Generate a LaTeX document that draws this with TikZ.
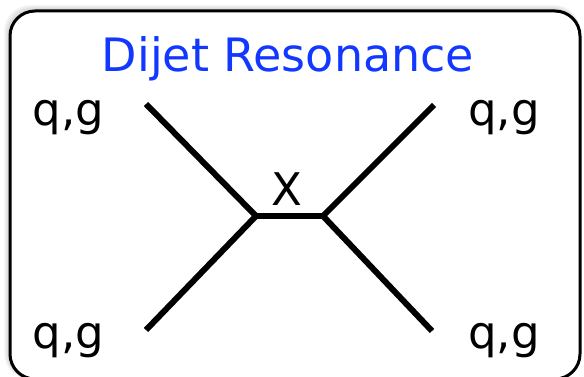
\documentclass[tikz,border=0pt]{standalone}
\usepackage{fontspec}
\setmainfont{DejaVu Sans}
\usepackage{xcolor}
\definecolor{diagramink}{HTML}{000000}
\definecolor{diagramtitle}{HTML}{1238FF}
\definecolor{diagramshade}{HTML}{9A9A9A}

\begin{document}
\begin{tikzpicture}[
  x=1pt,
  y=-1pt,
  every node/.style={inner sep=0pt, anchor=base},
  leg/.style={diagramink, line width=6pt},
  parton/.style={font=\fontsize{45}{50}\selectfont},
  title/.style={diagramtitle, font=\fontsize{46}{52}\selectfont}
]
  \useasboundingbox (0,0) rectangle (584,377);
  \def\frameBox{(10,11) rectangle (580,379)}

  \foreach \s in {1,...,6} {
    \path[fill=diagramshade, fill opacity=0.09, rounded corners=26pt]
      (10-\s,11-\s) rectangle (580,379);
  }
  \draw[diagramink, fill=white, line width=3pt, rounded corners=25pt] \frameBox;

  \node[title] (head) at (288,72) {Dijet Resonance};

  \coordinate (inA) at (146,104);
  \coordinate (inB) at (146,330);
  \coordinate (vtxL) at (256,216);
  \coordinate (vtxR) at (323,216);
  \coordinate (outA) at (434,105);
  \coordinate (outB) at (432,331);

  \draw[leg] (inA) -- (vtxL);
  \draw[leg] (inB) -- (vtxL);
  \draw[leg] (vtxL) -- (vtxR);
  \draw[leg] (vtxR) -- (outA);
  \draw[leg] (vtxR) -- (outB);

  \node[parton] (pA) at (68.5,126) {q,g};
  \node[parton] (pB) at (68.5,348) {q,g};
  \node[parton] (pC) at (504,126) {q,g};
  \node[parton] (pD) at (504,348) {q,g};
  \node[parton] (res) at (286.5,205) {X};
\end{tikzpicture}
\end{document}
